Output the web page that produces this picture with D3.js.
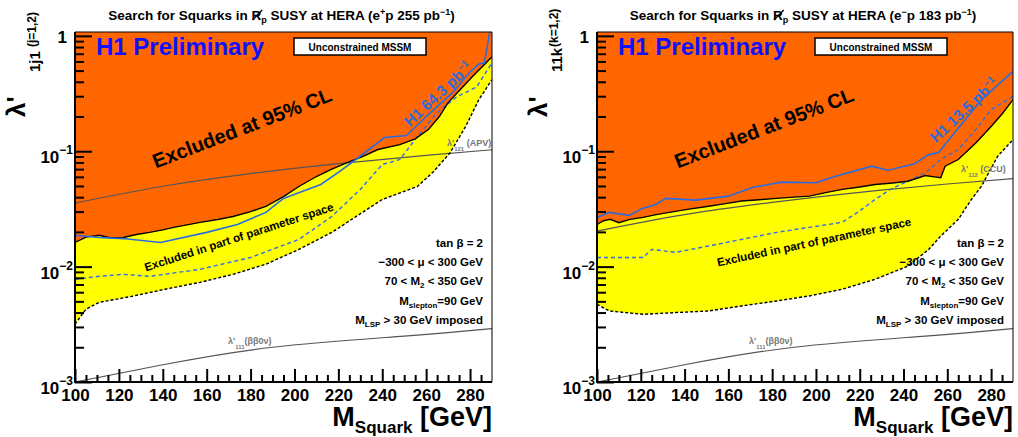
<!DOCTYPE html>
<html>
<head>
<meta charset="utf-8">
<script src="https://cdn.jsdelivr.net/npm/d3@7"></script>
<style>
body { margin: 0; background: #fff; }
text { font-family: "Liberation Sans", Arial, Helvetica, sans-serif; font-weight: bold; }
</style>
</head>
<body>
<div id="grafico"></div>
<script>
// tick values and labels
const xTicks = [100, 120, 140, 160, 180, 200, 220, 240, 260, 280]
const yTicks = [0.001, 0.01, 0.1, 1]
const yTickLabels = [["10", "−3"], ["10", "−2"], ["10", "−1"], ["1", ""]]

// text of the parameter box
const paramLines = [
  [["tan ", ""], ["β", ""], [" = 2", ""]],
  [["−300 < ", ""], ["μ", ""], ["  < 300 GeV", ""]],
  [["70 < M", ""], ["2", "sub"], [" < 350 GeV", ""]],
  [["M", ""], ["slepton", "sub"], ["=90 GeV", ""]],
  [["M", ""], ["LSP", "sub"], [" > 30 GeV imposed", ""]]
]

// ---- e+p panel : [M_squark, lambda'] ----
const exclPlus = [[100, 0.0162], [105, 0.0180], [111, 0.0187], [116, 0.0178], [122, 0.0179], [128, 0.0190],
  [134, 0.0198], [140, 0.0208], [145, 0.0219], [151, 0.0230], [157, 0.0242], [165, 0.0256], [172, 0.0272],
  [180, 0.0300], [187, 0.0333], [195, 0.0405], [202, 0.0495], [210, 0.0604], [217, 0.0700], [224, 0.0798],
  [231, 0.0900], [238, 0.1035], [248, 0.114], [255, 0.128], [261, 0.154], [266, 0.200], [270, 0.264],
  [276, 0.350], [281, 0.443], [286, 0.55], [290, 0.659]]
const h1OldPlus = [[100, 0.0187], [111, 0.0179], [122, 0.0175], [139, 0.0162], [160, 0.0198], [174, 0.0232],
  [187, 0.0295], [195, 0.039], [212, 0.0515], [220, 0.0655], [228, 0.0848], [241, 0.1315], [251, 0.137],
  [261, 0.208], [272, 0.322], [280, 0.489], [284, 0.57], [286.5, 0.58], [290, 1.4]]
const partPlus = [[100, 0.00777], [111, 0.00824], [122, 0.00857], [134, 0.00824], [157, 0.00948], [180, 0.0120],
  [202, 0.0172], [217, 0.0272], [230, 0.0467], [240, 0.0767], [248, 0.0848], [256, 0.134], [265, 0.216],
  [274, 0.297], [283, 0.36], [290, 0.585]]
const lowerPlus = [[100, 0.00317], [105, 0.00428], [111, 0.0049], [126, 0.00553], [141, 0.00637], [157, 0.00731],
  [172, 0.00857], [187, 0.0105], [202, 0.0141], [217, 0.0198], [233, 0.0313], [240, 0.0382], [256, 0.0495],
  [263, 0.0655], [271, 0.0975], [278, 0.164], [284, 0.28], [290, 0.417]]
const apv = [[100, 0.0355], [140, 0.0497], [180, 0.064], [220, 0.078], [260, 0.092], [290, 0.103]]

// ---- e-p panel ----
const exclMinus = [[100, 0.0232], [103, 0.0250], [106, 0.0257], [110, 0.0240], [115, 0.0257], [121, 0.0267],
  [127, 0.0282], [133, 0.0295], [142, 0.0315], [151, 0.0334], [158, 0.0350], [166, 0.0370], [174, 0.0380],
  [182, 0.0390], [190, 0.0400], [197, 0.0408], [205, 0.0440], [212, 0.0467], [220, 0.0490], [227, 0.0515],
  [235, 0.0530], [242, 0.0550], [250, 0.0616], [254, 0.0600], [257, 0.0589], [259, 0.0742], [265, 0.0848],
  [273, 0.118], [280, 0.164], [285, 0.21], [290, 0.28]]
const h1OldMinus = [[100, 0.0267], [105.6, 0.0295], [114.7, 0.0278], [120.7, 0.0319], [126.9, 0.0346],
  [131.4, 0.039], [145, 0.0377], [160, 0.0408], [171, 0.0485], [184, 0.054], [200, 0.0533], [209, 0.0608],
  [225.5, 0.0742], [233, 0.0685], [245, 0.0778], [251.5, 0.0935], [256, 0.0975], [262, 0.135], [275.6, 0.28],
  [290, 0.492]]
const partMinus = [[100, 0.0120], [121, 0.0120], [125, 0.0141], [136, 0.0133], [151, 0.0151], [166, 0.0172],
  [182, 0.0198], [197, 0.0219], [212, 0.0242], [219, 0.0295], [227, 0.0382], [234, 0.0467], [250, 0.065],
  [257, 0.0848], [265, 0.1035], [273, 0.154], [280, 0.23], [290, 0.299]]
const lowerMinus = [[100, 0.00472], [105.6, 0.00413], [121, 0.00386], [136, 0.0040], [151, 0.00413],
  [166, 0.00456], [182, 0.00504], [197, 0.00557], [212, 0.00637], [227, 0.00776], [242, 0.0101],
  [251.5, 0.0141], [257, 0.0184], [265, 0.0257], [271, 0.0382], [275.6, 0.0498], [283, 0.0905], [290, 0.126]]
const ccu = [[100, 0.0203], [140, 0.0282], [180, 0.036], [220, 0.044], [260, 0.052], [290, 0.058]]

const bb0v = [[100, 0.0010], [140, 0.00141], [190, 0.0020], [250, 0.0025], [290, 0.0029]]

const width = 1018, height = 437

const svg = d3.select("#grafico")
  .append("svg")
  .attr("width", width)
  .attr("height", height)

svg.append("rect").attr("width", width).attr("height", height).attr("fill", "#fff")

function drawPanel(p) {
  const x = d3.scaleLinear().domain([100, 290]).range([p.left, p.right])
  const y = d3.scaleLog().domain([0.001, 1.08]).range([382, 32])
  const top = y.range()[1], bottom = y.range()[0]

  const g = svg.append("g")
  g.append("clipPath").attr("id", "clip" + p.id)
    .append("rect")
    .attr("x", p.left).attr("y", top)
    .attr("width", p.right - p.left).attr("height", bottom - top)
  const plot = g.append("g").attr("clip-path", `url(#clip${p.id})`)

  const line = d3.line().x(d => x(d[0])).y(d => y(d[1]))
  const smooth = d3.line().x(d => x(d[0])).y(d => y(d[1])).curve(d3.curveNatural)

  // excluded in part of parameter space
  plot.append("path")
    .attr("d", line(p.excl.concat(p.lower.slice().reverse())) + "Z")
    .attr("fill", "#ffff00")

  // excluded at 95% CL
  plot.append("path")
    .attr("d", d3.area().x(d => x(d[0])).y0(top).y1(d => y(d[1]))(p.excl))
    .attr("fill", "#ff6600")

  // indirect limits
  plot.selectAll(".indirect")
    .data([p.indirect, bb0v])
    .join("path")
    .attr("d", smooth)
    .attr("fill", "none")
    .attr("stroke", "#555")
    .attr("stroke-width", 1.2)

  plot.append("path").attr("d", line(p.lower))
    .attr("fill", "none").attr("stroke", "#000").attr("stroke-width", 1.4).attr("stroke-dasharray", "3,2")
  plot.append("path").attr("d", line(p.part))
    .attr("fill", "none").attr("stroke", "#2a70e8").attr("stroke-width", 1.4).attr("stroke-dasharray", "4,3")
  plot.append("path").attr("d", line(p.excl))
    .attr("fill", "none").attr("stroke", "#000").attr("stroke-width", 1.4)
  plot.append("path").attr("d", line(p.old))
    .attr("fill", "none").attr("stroke", "#2a6ce0").attr("stroke-width", 1.6)

  // frame
  g.append("line").attr("x1", p.left).attr("x2", p.right).attr("y1", top).attr("y2", top)
    .attr("stroke", "#000").attr("stroke-width", 1)
  g.append("line").attr("x1", p.right).attr("x2", p.right).attr("y1", top).attr("y2", bottom)
    .attr("stroke", "#000").attr("stroke-width", 1)

  // x axis
  const minorX = d3.range(105, 290, 5).filter(v => v % 20 !== 0)
  const xMinor = g.append("g").attr("transform", `translate(0,${bottom})`)
    .call(d3.axisBottom(x).tickValues(minorX).tickSize(-7).tickFormat(""))
  const xAxis = g.append("g").attr("transform", `translate(0,${bottom})`)
    .call(d3.axisBottom(x).tickValues(xTicks).tickSize(-13).tickPadding(7).tickFormat(d3.format("d")))
  xAxis.selectAll("text").attr("font-size", 17).attr("fill", "#000")
    .style("font-family", "'Liberation Sans', Arial, sans-serif").style("font-weight", "bold")

  // y axis
  const minorY = []
  for (let e = -3; e < 0; e++) for (let k = 2; k <= 9; k++) minorY.push(k * Math.pow(10, e))
  const yMinor = g.append("g").attr("transform", `translate(${p.left},0)`)
    .call(d3.axisLeft(y).tickValues(minorY).tickSize(-9).tickFormat(""))
  const yAxis = g.append("g").attr("transform", `translate(${p.left},0)`)
    .call(d3.axisLeft(y).tickValues(yTicks).tickSize(-17).tickFormat(""))
  ;[xMinor, xAxis, yMinor, yAxis].forEach(a => {
    a.select(".domain").remove()
    a.selectAll("line").attr("stroke", "#000").attr("stroke-width", 2)
  })
  g.append("line").attr("x1", p.left).attr("x2", p.right).attr("y1", bottom).attr("y2", bottom)
    .attr("stroke", "#000").attr("stroke-width", 2)
  g.append("line").attr("x1", p.left).attr("x2", p.left).attr("y1", top).attr("y2", bottom + 1)
    .attr("stroke", "#000").attr("stroke-width", 2)

  yTicks.forEach((v, i) => {
    const [base, exp] = yTickLabels[i]
    const t = g.append("text").attr("text-anchor", "end").attr("fill", "#000")
    if (exp === "") {
      t.attr("x", p.left - 8).attr("y", y(v) + 7).attr("font-size", 17).text(base)
    } else {
      t.attr("x", p.left - 2).attr("y", y(v) + 12).attr("font-size", 17)
      t.append("tspan").text(base)
      t.append("tspan").attr("font-size", 12).attr("dy", -9).text(exp)
    }
  })

  // axis titles
  const xt = g.append("text").attr("x", p.right).attr("y", 426).attr("text-anchor", "end").attr("font-size", 27)
  xt.append("tspan").text("M")
  xt.append("tspan").attr("font-size", 17).attr("dy", 7).text("Squark")
  xt.append("tspan").attr("dy", -7).text(" [GeV]")

  const yl = p.left - 50
  g.append("text").attr("transform", `translate(${yl},117) rotate(-90)`).attr("font-size", 26).text("λ'")
  g.append("text").attr("transform", `translate(${yl + 15},72) rotate(-90)`).attr("font-size", 15).text(p.sub)
  g.append("text").attr("transform", `translate(${yl + 11},47) rotate(-90)`).attr("font-size", 12).text(p.sup)

  // title
  const cx = (p.left + p.right) / 2
  const tt = g.append("text").attr("x", cx - 2).attr("y", 20).attr("text-anchor", "middle").attr("font-size", 13.5)
  tt.append("tspan").text("Search for Squarks in ")
  tt.append("tspan").text("R")
  tt.append("tspan").attr("font-size", 9).attr("dy", 3).text("p")
  tt.append("tspan").attr("dy", -3).text(" SUSY at HERA (e")
  tt.append("tspan").attr("font-size", 9).attr("dy", -5).text(p.charge)
  tt.append("tspan").attr("dy", 5).text("p " + p.lumi + " pb")
  tt.append("tspan").attr("font-size", 9).attr("dy", -5).text("−1")
  tt.append("tspan").attr("dy", 5).text(")")
  const n = "Search for Squarks in ".length
  const box = tt.node().getExtentOfChar(n)
  g.append("line")
    .attr("x1", box.x + 1).attr("y1", box.y + box.height - 3)
    .attr("x2", box.x + box.width + 1).attr("y2", box.y + 2)
    .attr("stroke", "#000").attr("stroke-width", 1.3)

  // labels inside the frame
  g.append("text").attr("x", p.left + 21).attr("y", 55).attr("font-size", 24).attr("fill", "#1010ff")
    .text("H1 Preliminary")
  g.append("rect").attr("x", p.boxX).attr("y", 38).attr("width", 132).attr("height", 17)
    .attr("fill", "#fff").attr("stroke", "#000").attr("stroke-width", 1.5)
  g.append("text").attr("x", p.boxX + 66).attr("y", 50.5).attr("text-anchor", "middle").attr("font-size", 10)
    .text("Unconstrained MSSM")

  g.append("text").attr("transform", `translate(${p.left + 167},128) rotate(-21)`)
    .attr("text-anchor", "middle").attr("dy", "0.35em").attr("font-size", 20).text("Excluded at 95% CL")
  const ol = g.append("text").attr("transform", `translate(${p.oldPos[0]},${p.oldPos[1]}) rotate(-43)`)
    .attr("text-anchor", "middle").attr("dy", "0.35em").attr("font-size", 15).attr("fill", "#2a6ce0")
  ol.append("tspan").text("H1 " + p.oldLumi + " pb")
  ol.append("tspan").attr("font-size", 10).attr("dy", -6).text("−1")
  g.append("text").attr("transform", `translate(${p.partPos[0]},${p.partPos[1]}) rotate(${p.partAngle})`)
    .attr("text-anchor", "middle").attr("dy", "0.35em").attr("font-size", 11.5)
    .text("Excluded in part of parameter space")

  paramLines.forEach((ln, i) => {
    const t = g.append("text").attr("x", p.right - 9).attr("y", 247 + i * 19.2)
      .attr("text-anchor", "end").attr("font-size", 11.5)
    let low = false
    ln.forEach(([s, kind]) => {
      const sp = t.append("tspan").text(s)
      if (kind === "sub") { sp.attr("font-size", 8).attr("dy", 3); low = true }
      else if (low) { sp.attr("dy", -3); low = false }
    })
  })

  // indirect limit labels
  const il = g.append("text").attr("x", p.indPos[0]).attr("y", p.indPos[1]).attr("font-size", 9).attr("fill", "#777")
  il.append("tspan").text("λ'")
  il.append("tspan").attr("font-size", 6).attr("dy", 5).text(p.indSub)
  il.append("tspan").attr("dy", -5).text("  " + p.indName)
  const bl = g.append("text").attr("x", p.bbPos[0]).attr("y", p.bbPos[1]).attr("font-size", 9).attr("fill", "#777")
  bl.append("tspan").text("λ'")
  bl.append("tspan").attr("font-size", 6).attr("dy", 5).text("111")
  bl.append("tspan").attr("dy", -5).text("(ββ0ν)")
}

drawPanel({
  id: "L", left: 75, right: 492, excl: exclPlus, lower: lowerPlus, part: partPlus, old: h1OldPlus,
  indirect: apv, charge: "+", lumi: "255", oldLumi: "64.3", sub: "1j1", sup: "(j=1,2)",
  boxX: 294, oldPos: [438, 94], partPos: [239, 237], partAngle: -18,
  indPos: [447, 146], indSub: "121", indName: "(APV)", bbPos: [228, 344]
})
drawPanel({
  id: "R", left: 597, right: 1013, excl: exclMinus, lower: lowerMinus, part: partMinus, old: h1OldMinus,
  indirect: ccu, charge: "−", lumi: "183", oldLumi: "13.5", sub: "11k", sup: "(k=1,2)",
  boxX: 815, oldPos: [964, 110], partPos: [814, 242], partAngle: -12,
  indPos: [961, 172], indSub: "112", indName: "(CCU)", bbPos: [749, 344]
})
</script>
</body>
</html>
